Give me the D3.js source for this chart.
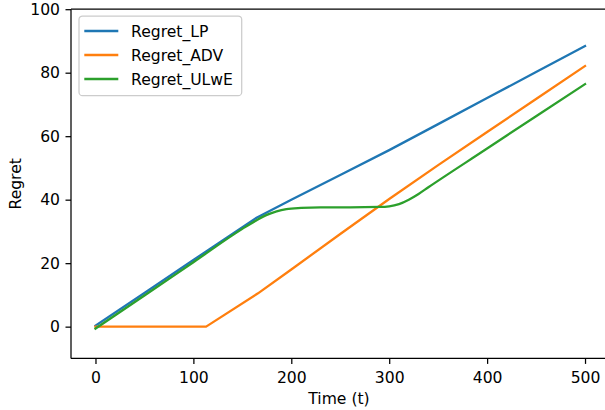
<!DOCTYPE html>
<html lang="en">
<head>
  <meta charset="UTF-8">
  <title>Regret over time</title>
  <script src="https://d3js.org/d3.v7.min.js"></script>
  <style>
    body { margin: 0; background: #fff; overflow: hidden; }
    svg { display: block; font-family: "DejaVu Sans", sans-serif; }
  </style>
</head>
<body>
  <svg id="chart" width="605" height="410"></svg>
  <script>
    // values
    const tLP = [0, 50, 100, 165, 200, 250, 300, 350, 400, 450, 500];
    const regretLP = [0.3, 10.6, 21, 34.4, 40, 47.8, 55.6, 63.8, 72, 80.2, 88.4];

    const tADV = [0, 113, 166, 200, 250, 300, 350, 400, 450, 500];
    const regretADV = [0, 0, 10.5, 18, 29.2, 40.2, 50.9, 61.3, 71.7, 82.1];

    const tULwE = [0, 50, 100, 150, 165, 175, 185, 195, 210, 230, 260, 290, 300, 310, 320, 330, 340, 400, 450, 500];
    const regretULwE = [-0.6, 9.8, 20.3, 30.8, 33.6, 35.2, 36.3, 37, 37.4, 37.6, 37.6, 37.7, 37.9, 38.6, 40, 41.8, 43.9, 56.1, 66.3, 76.4];

    const xTicks = [0, 100, 200, 300, 400, 500];
    const yTicks = [0, 20, 40, 60, 80, 100];

    const seriesNames = ['Regret_LP', 'Regret_ADV', 'Regret_ULwE'];
    const colors = ['#1f77b4', '#ff7f0e', '#2ca02c'];

    const series = [
      { pts: tLP.map((t, i) => [t, regretLP[i]]), curve: d3.curveLinear },
      { pts: tADV.map((t, i) => [t, regretADV[i]]), curve: d3.curveLinear },
      { pts: tULwE.map((t, i) => [t, regretULwE[i]]), curve: d3.curveMonotoneX }
    ];

    const margin = { left: 71, top: 9.2, right: 609.5, bottom: 358.4 };
    const fontSize = '15.6px';

    const svg = d3.select('#chart');

    const x = d3.scaleLinear().domain([-25, 525]).range([margin.left, margin.right]);
    const y = d3.scaleLinear().domain([-10, 100]).range([margin.bottom, margin.top]);

    const plot = svg.append('g');
    plot.append('clipPath').attr('id', 'clip')
      .append('rect')
      .attr('x', margin.left).attr('y', margin.top)
      .attr('width', margin.right - margin.left).attr('height', margin.bottom - margin.top);

    plot.selectAll('path.series')
      .data(series)
      .enter()
      .append('path')
      .attr('class', 'series')
      .attr('clip-path', 'url(#clip)')
      .attr('d', s => d3.line().x(d => x(d[0])).y(d => y(d[1])).curve(s.curve)(s.pts))
      .attr('fill', 'none')
      .attr('stroke', (d, i) => colors[i])
      .attr('stroke-width', 2.3)
      .attr('stroke-linejoin', 'round')
      .attr('stroke-linecap', 'square');

    // axes
    const xAxis = svg.append('g')
      .attr('transform', `translate(0,${margin.bottom})`)
      .call(d3.axisBottom(x).tickValues(xTicks).tickSize(5.5).tickPadding(8).tickSizeOuter(0));
    const yAxis = svg.append('g')
      .attr('transform', `translate(${margin.left},0)`)
      .call(d3.axisLeft(y).tickValues(yTicks).tickSize(5.5).tickPadding(5.5).tickSizeOuter(0));

    [xAxis, yAxis].forEach(ax => {
      ax.select('.domain').remove();
      ax.selectAll('line').attr('stroke', '#000').attr('stroke-width', 1.25);
      ax.selectAll('text').attr('fill', '#000').style('font-size', fontSize)
        .style('font-family', '"DejaVu Sans", sans-serif');
    });

    // spines
    const spine = (x1, y1, x2, y2) => svg.append('line')
      .attr('x1', x1).attr('y1', y1).attr('x2', x2).attr('y2', y2)
      .attr('stroke', '#000').attr('stroke-width', 1.25);
    spine(margin.left, margin.top, margin.left, margin.bottom);
    spine(margin.left, margin.bottom, margin.right, margin.bottom);
    spine(margin.left, margin.top, margin.right, margin.top);
    spine(margin.right, margin.top, margin.right, margin.bottom);

    // axis labels
    svg.append('text')
      .attr('x', 339)
      .attr('y', 404)
      .attr('text-anchor', 'middle')
      .style('font-size', fontSize)
      .text('Time (t)');
    svg.append('text')
      .attr('transform', `translate(21,${(margin.top + margin.bottom) / 2}) rotate(-90)`)
      .attr('text-anchor', 'middle')
      .style('font-size', fontSize)
      .text('Regret');

    // legend
    const legend = svg.append('g').attr('transform', 'translate(79,16)');
    legend.append('rect')
      .attr('x', 0).attr('y', 0)
      .attr('width', 162.7).attr('height', 79.7)
      .attr('rx', 3.5)
      .attr('fill', '#fff').attr('fill-opacity', 0.8)
      .attr('stroke', '#ccc').attr('stroke-width', 1.25);
    const item = legend.selectAll('g.item')
      .data(seriesNames)
      .enter()
      .append('g')
      .attr('class', 'item')
      .attr('transform', (d, i) => `translate(0,${15 + i * 24})`);
    item.append('line')
      .attr('x1', 5.3).attr('x2', 39.3)
      .attr('stroke', (d, i) => colors[i])
      .attr('stroke-width', 2.3);
    item.append('text')
      .attr('x', 52).attr('dy', '0.36em')
      .style('font-size', fontSize)
      .text(d => d);
  </script>
</body>
</html>
